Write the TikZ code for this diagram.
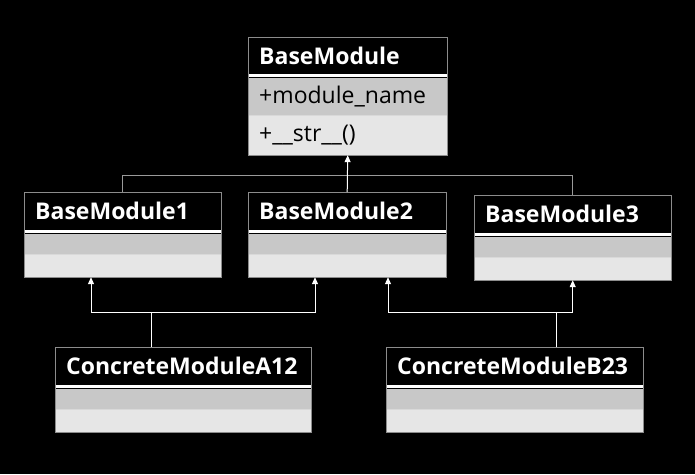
\documentclass[tikz,border=0pt]{standalone}
\usepackage{fontspec}
\setmainfont{Open Sans}
\usetikzlibrary{arrows.meta, positioning, calc}
\definecolor{Frame}{HTML}{8C8C8C}
\definecolor{Attr} {HTML}{C8C8C8}
\definecolor{Oper} {HTML}{E6E6E6}
\definecolor{Wire} {HTML}{9A9A9A}

\tikzset{
  classhead/.style={fill=black, text=white, anchor=north west, align=left,
                    font=\fontsize{23}{26}\selectfont\bfseries,
                    inner xsep=11pt, inner ysep=0pt, text width=#1},
  classattr/.style={fill=Attr, text=black, anchor=north west, align=left,
                    font=\fontsize{23}{26}\selectfont,
                    inner xsep=11pt, inner ysep=0pt, text width=#1},
  classop/.style={fill=Oper, text=black, anchor=north west, align=left,
                  font=\fontsize{23}{26}\selectfont,
                  inner xsep=11pt, inner ysep=0pt, text width=#1},
  inherit/.style={draw=white, line width=1pt, -{Triangle[width=6pt,length=7pt]}},
  wire/.style={draw=Wire, line width=1pt}
}

\begin{document}
\begin{tikzpicture}[x=1pt, y=-1pt]
  \fill[black] (0,0) rectangle (695,474);

  % top class
  \node[classhead=177pt, minimum height=37pt] (base) at (248,37) {BaseModule};
  \node[classattr=177pt, minimum height=37pt, below=3pt of base.south west, anchor=north west] (base-a) {+module\_name};
  \node[classop=177pt, minimum height=40pt, below=0pt of base-a.south west, anchor=north west] (base-o) {+\_\_str\_\_()};

  % middle row
  \node[classhead=175pt, minimum height=38pt] (bm1) at (24,192) {BaseModule1};
  \node[classattr=175pt, minimum height=20pt, below=3pt of bm1.south west, anchor=north west] (bm1-a) {};
  \node[classop=175pt, minimum height=23pt, below=0pt of bm1-a.south west, anchor=north west] (bm1-o) {};

  \node[classhead=176pt, minimum height=38pt] (bm2) at (248,192) {BaseModule2};
  \node[classattr=176pt, minimum height=20pt, below=3pt of bm2.south west, anchor=north west] (bm2-a) {};
  \node[classop=176pt, minimum height=23pt, below=0pt of bm2-a.south west, anchor=north west] (bm2-o) {};

  \node[classhead=175pt, minimum height=38pt] (bm3) at (474,195) {BaseModule3};
  \node[classattr=175pt, minimum height=20pt, below=3pt of bm3.south west, anchor=north west] (bm3-a) {};
  \node[classop=175pt, minimum height=23pt, below=0pt of bm3-a.south west, anchor=north west] (bm3-o) {};

  % bottom row
  \node[classhead=234pt, minimum height=38pt] (a12) at (55,347) {ConcreteModuleA12};
  \node[classattr=234pt, minimum height=20pt, below=3pt of a12.south west, anchor=north west] (a12-a) {};
  \node[classop=234pt, minimum height=23pt, below=0pt of a12-a.south west, anchor=north west] (a12-o) {};

  \node[classhead=235pt, minimum height=38pt] (b23) at (386,347) {ConcreteModuleB23};
  \node[classattr=235pt, minimum height=20pt, below=3pt of b23.south west, anchor=north west] (b23-a) {};
  \node[classop=235pt, minimum height=23pt, below=0pt of b23-a.south west, anchor=north west] (b23-o) {};

  % separators and frames
  \foreach \c in {base, bm1, bm2, bm3, a12, b23} {
    \fill[white] (\c.south west) rectangle (\c-a.north east);
    \draw[white!85!black, line width=0.6pt] (\c-a.south west) -- (\c-a.south east);
    \draw[Frame, line width=0.8pt] (\c.north west) rectangle (\c-o.south east);
  }

  % generalisation to BaseModule
  \coordinate (split) at ($(base-o.south)+(0,20)$);
  \draw[wire] (bm1.north) |- (split) -| (bm3.north);
  \draw[inherit] (bm2.north) -- (base-o.south);

  % ConcreteModuleA12
  \coordinate (a12up) at ([xshift=96pt]a12.north west);
  \coordinate (a12knee) at ($(a12up)+(0,-35)$);
  \draw[inherit] (a12up) -- (a12knee) -| ([xshift=67pt]bm1-o.south west);
  \draw[inherit] (a12knee) -| ([xshift=67pt]bm2-o.south west);

  % ConcreteModuleB23
  \coordinate (b23up) at ([xshift=170pt]b23.north west);
  \coordinate (b23knee) at ($(b23up)+(0,-35)$);
  \draw[inherit] (b23up) -- (b23knee) -| ([xshift=140pt]bm2-o.south west);
  \draw[inherit] (b23knee) -| (bm3-o.south);
\end{tikzpicture}
\end{document}
